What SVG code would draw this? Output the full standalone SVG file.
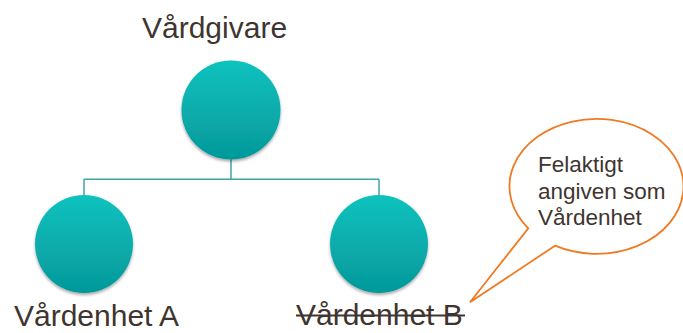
<svg xmlns="http://www.w3.org/2000/svg" width="683" height="333" viewBox="0 0 683 333">
<defs>
<linearGradient id="teal" x1="0" y1="0" x2="0" y2="1">
<stop offset="0" stop-color="#0cc2be"/>
<stop offset="1" stop-color="#05989a"/>
</linearGradient>
<filter id="sh" x="-20%" y="-20%" width="140%" height="140%">
<feGaussianBlur in="SourceAlpha" stdDeviation="1.5"/>
<feOffset dy="1.5" result="b"/>
<feComponentTransfer><feFuncA type="linear" slope="0.35"/></feComponentTransfer>
<feMerge><feMergeNode/><feMergeNode in="SourceGraphic"/></feMerge>
</filter>
</defs>
<style>
.node{fill:url(#teal);filter:url(#sh)}
.lbl{font-family:"Liberation Sans",Arial,sans-serif;font-size:30px;fill:#3f3530}
.conn{fill:none;stroke:#3fa4a6;stroke-width:1.5}
.bub{fill:#ffffff;stroke:#f07a22;stroke-width:1.8;stroke-linejoin:miter}
.btxt{font-family:"Liberation Sans",Arial,sans-serif;font-size:22.5px;fill:#3f3530}
</style>
<rect width="683" height="333" fill="#ffffff"/>
<g id="connectors">
<path class="conn" d="M231 159V179.3M84 179.3H379M84 179.3V195M379 179.3V195"/>
</g>
<g id="vardgivare">
<circle class="node" cx="231" cy="110" r="49.5"/>
<text class="lbl" x="142" y="38">Vårdgivare</text>
</g>
<g id="vardenhet-a">
<circle class="node" cx="84" cy="244" r="49"/>
<text class="lbl" x="14" y="326">Vårdenhet A</text>
</g>
<g id="vardenhet-b">
<circle class="node" cx="379" cy="244" r="49"/>
<text class="lbl" x="296" y="325">Vårdenhet B</text>
<line x1="296" y1="315.5" x2="465" y2="315.5" stroke="#3f3530" stroke-width="2"/>
</g>
<g id="callout">
<path class="bub" d="M528.3 228.3 A87 67.5 0 1 1 555 245.7 L470 302.3 Z"/>
<text class="btxt" x="538" y="172">Felaktigt</text>
<text class="btxt" x="538" y="198.5">angiven som</text>
<text class="btxt" x="538" y="225">Vårdenhet</text>
</g>
</svg>
